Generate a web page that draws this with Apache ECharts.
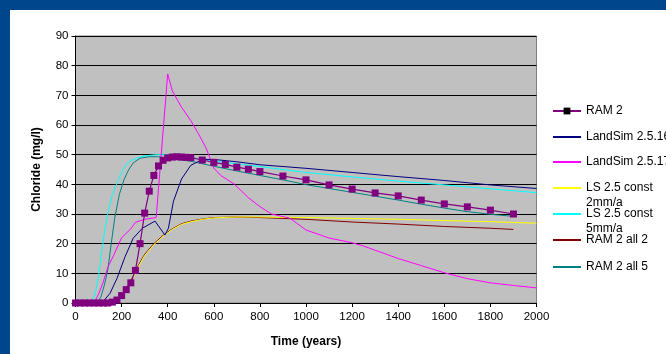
<!DOCTYPE html>
<html><head><meta charset="utf-8">
<script src="https://cdn.jsdelivr.net/npm/echarts@6/dist/echarts.min.js"></script>
<style>html,body{margin:0;padding:0;background:#fff;}#c{width:666px;height:354px;}</style>
</head><body><div id="c"></div><script>
// ---- data ----
var seriesNames = ['RAM 2','LandSim 2.5.16','LandSim 2.5.17','LS 2.5 const 2mm/a','LS 2.5 const 5mm/a','RAM 2 all 2','RAM 2 all 5'];

var ram2X = [0,20,40,60,80,100,120,140,160,180,200,220,240,260,280,300,320,340,360,380,400,420,440,460,480,500,550,600,650,700,750,800,900,1000,1100,1200,1300,1400,1500,1600,1700,1800,1900];
var ram2Y = [0,0,0,0,0,0,0,0,0.3,1.0,2.5,4.5,6.8,11,20,30.3,37.7,43,46.2,48.1,48.9,49.2,49.3,49.2,49.1,49,48.2,47.4,46.7,45.8,45.1,44.3,42.8,41.5,39.8,38.4,37.1,36.1,34.7,33.4,32.4,31.3,30.0];

var ls16X = [0,100,120,150,180,215,250,290,345,388,403,425,460,500,550,600,700,800,1000,1200,1400,1600,1800,2000];
var ls16Y = [0,0,0.5,3.3,8.3,15.6,21.8,25.2,27.6,22.9,25.2,34.3,41.8,46.4,48.4,48.4,47.6,46.6,45.4,44,42.6,41.3,39.8,38.6];

var ls17X = [0,80,100,120,140,165,200,240,260,300,350,400,420,460,500,530,565,600,630,690,750,800,850,930,1000,1100,1200,1250,1300,1400,1500,1600,1700,1800,1900,2000];
var ls17Y = [0,0,3,7,12,16,22,25,27.2,28.2,28.8,77.2,71.5,66,61.5,57.5,52.5,45.5,43,40,35.5,32.5,30,28.6,24.6,21.9,20.3,19.2,17.8,15,12.6,10.2,8.2,6.8,5.9,5.1];

var c2X = [0,150,175,200,225,250,275,300,340,380,420,460,500,550,600,700,800,1000,1200,1400,1600,1800,2000];
var c2Y = [0,0,0.5,2.5,5.2,8.5,12.5,16,19.7,22.5,24.8,26.5,27.4,28.2,28.7,29,29,28.8,28.5,28.2,27.8,27.4,26.9];

var c5X = [0,60,70,85,100,115,130,145,160,180,200,220,240,270,300,350,400,450,500,600,700,800,1000,1200,1400,1600,1800,2000];
var c5Y = [0,0,0.5,3,9,18,26,32,36.5,40.5,44,46.8,48,49,49.6,50,50,49.6,49,47.9,46.9,46,44,42.5,41.1,39.8,38.5,37.2];

var a2X = [0,150,175,200,225,250,275,300,340,380,420,460,500,550,600,700,800,1000,1200,1400,1600,1800,1900];
var a2Y = [0,0,0.6,2.7,5.5,9,13,16.4,20,22.8,25,26.7,27.6,28.3,28.8,29,28.8,28.2,27.3,26.6,25.8,25.2,24.8];

var a5X = [0,90,110,125,140,155,170,190,210,230,250,280,320,360,400,450,500,600,700,800,900,1000,1100,1200,1300,1400,1500,1600,1700,1800,1900];
var a5Y = [0,0,2,6,11,20,28.5,36.5,41.5,44.8,47.2,48.8,49.3,49.3,48.8,48.3,47.8,46.1,44.5,43,41.5,39.9,38.6,37.3,36,34.7,33.3,32,30.8,29.9,29.2];

var xTicks = {min:0, max:2000, step:200};
var yTicks = {min:0, max:90, step:10};

// ---- build ----
function pairs(xs, ys){ return xs.map(function(x,i){ return [x, ys[i]]; }); }
var colors = ['#800080','#000080','#FF00FF','#FFFF00','#00FFFF','#800000','#008080'];
var allData = [pairs(ram2X,ram2Y),pairs(ls16X,ls16Y),pairs(ls17X,ls17Y),pairs(c2X,c2Y),pairs(c5X,c5Y),pairs(a2X,a2Y),pairs(a5X,a5Y)];
var FONT = 'Liberation Sans, Arial, sans-serif';

var series = seriesNames.map(function(n,i){
  return {
    name:n, type:'line', data:allData[i], z: i===0 ? 20 : 10 - i,
    symbol: i===0 ? 'rect' : 'none', symbolSize: 7, showSymbol: i===0,
    lineStyle:{color:colors[i], width: i===0 ? 1.2 : 1},
    itemStyle:{color:colors[i]}, animation:false, smooth:false
  };
});

var legendTops = [111,137,162,188,214,240,267];
var legends = seriesNames.map(function(n,i){
  var two = n.indexOf('const')>0;
  return {
    data:[n], left:552, top: legendTops[i] - (two ? 22.5 : 7.5),
    orient:'vertical', padding:0, itemWidth:28, itemHeight: i===0 ? 8.5 : 1, itemGap:0,
    selectedMode:false,
    itemStyle: i===0 ? undefined : {opacity:0},
    textStyle:{fontFamily:FONT, fontSize:12, color:'#000', lineHeight:15},
    formatter: function(name){
      if(name.indexOf('const')>0){ var p = name.split(' const '); return '\n'+p[0]+' const\n'+p[1]; }
      return name;
    }
  };
});

var chart = echarts.init(document.getElementById('c'), null, {renderer:'canvas'});
chart.setOption({
  backgroundColor:'#fff',
  animation:false,
  graphic:[
    {type:'rect', left:0, top:0, shape:{width:666, height:10}, style:{fill:'#00468C'}, z:100},
    {type:'rect', left:0, top:0, shape:{width:10, height:354}, style:{fill:'#00468C'}, z:100}
  ],
  grid:{left:75.5, top:36, right:129.5, bottom:51, show:true, backgroundColor:'#C0C0C0', borderColor:'#808080', borderWidth:1},
  legend: legends,
  xAxis:{
    type:'value', min:xTicks.min, max:xTicks.max, interval:xTicks.step,
    name:'Time (years)', nameLocation:'middle', nameGap:33,
    nameTextStyle:{fontFamily:FONT, fontSize:12, fontWeight:'bold', color:'#000'},
    axisLine:{lineStyle:{color:'#000', width:1}},
    axisTick:{show:true, length:4, lineStyle:{color:'#000'}},
    axisLabel:{fontFamily:FONT, fontSize:11.5, color:'#000', margin:8, formatter:function(v){ return String(v); }},
    splitLine:{show:false}
  },
  yAxis:{
    type:'value', min:yTicks.min, max:yTicks.max, interval:yTicks.step,
    name:'Chloride (mg/l)', nameLocation:'middle', nameGap:33,
    nameTextStyle:{fontFamily:FONT, fontSize:12, fontWeight:'bold', color:'#000'},
    axisLine:{show:true, lineStyle:{color:'#000', width:1}},
    axisTick:{show:true, length:4, lineStyle:{color:'#000'}},
    axisLabel:{fontFamily:FONT, fontSize:11.5, color:'#000', margin:7, formatter:function(v){ return String(v); }},
    splitLine:{show:true, lineStyle:{color:'#000', width:1}}
  },
  series: series
});
</script></body></html>
